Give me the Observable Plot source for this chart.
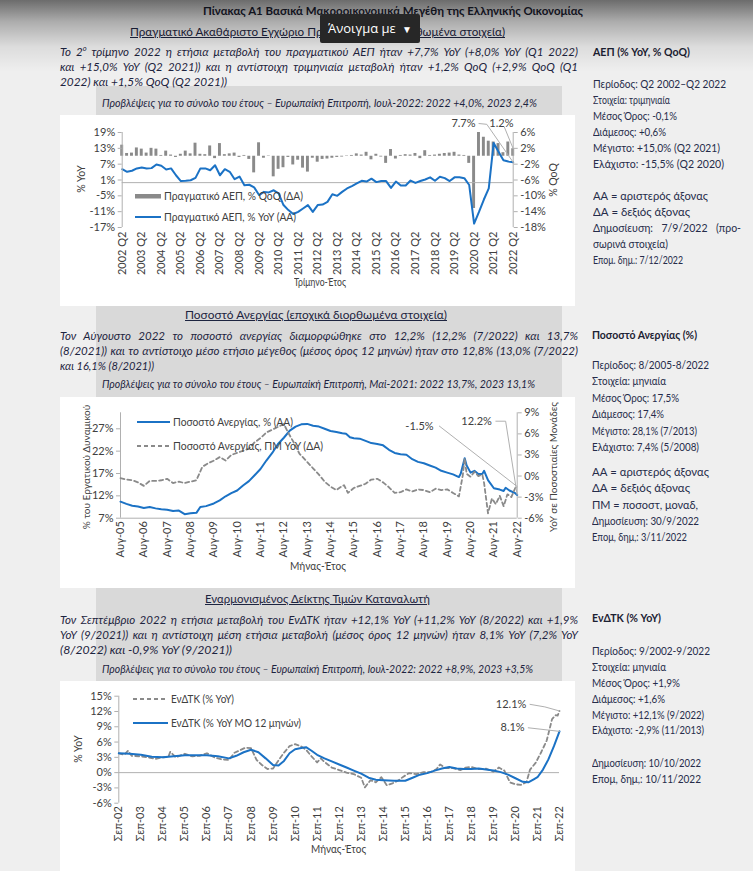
<!DOCTYPE html>
<html lang="el">
<head>
<meta charset="utf-8">
<title>Πίνακας Α1</title>
<script src="https://cdn.jsdelivr.net/npm/d3@7"></script>
<script src="https://cdn.jsdelivr.net/npm/@observablehq/plot@0.6"></script>
<style>
  html, body { margin:0; padding:0; }
  body { width:753px; height:871px; position:relative; overflow:hidden; background:#efefef;
         font-family: Lato, "Noto Sans", sans-serif; color:#1d2440; }
  .a { position:absolute; white-space:nowrap; line-height:1; }
  .band { position:absolute; background:#d9d9d9; }
  .box { position:absolute; background:#fff; }
  .chart { position:absolute; }
  sup { font-size:0.65em; line-height:0; }
</style>
</head>
<body>
<div class="band" style="left:96px;top:86px;width:466px;height:29px"></div>
<div class="box" style="left:60px;top:115px;width:515px;height:191px"></div>
<div class="band" style="left:96px;top:306px;width:466px;height:91px"></div>
<div class="box" style="left:60px;top:397px;width:515px;height:191px"></div>
<div class="band" style="left:96px;top:588px;width:466px;height:93px"></div>
<div class="box" style="left:60px;top:681px;width:515px;height:190px"></div>
<script>
// ---------------- DATA ----------------
// Chart 1: real GDP, quarterly 2002 Q2 – 2022 Q2
const gdpTickLabels = ["2002 Q2","2003 Q2","2004 Q2","2005 Q2","2006 Q2","2007 Q2","2008 Q2","2009 Q2","2010 Q2","2011 Q2","2012 Q2","2013 Q2","2014 Q2","2015 Q2","2016 Q2","2017 Q2","2018 Q2","2019 Q2","2020 Q2","2021 Q2","2022 Q2"];
const gdpYoY = [5.1,4.1,4.5,
  5.4,5.7,5.4,5.5,
  6.9,6.4,5.0,5.4,
  2.8,0.6,0.7,0.9,
  1.8,5.4,5.4,4.7,
  6.6,2.8,5.1,4.1,
  1.3,2.3,-1.0,-0.8,
  -1.8,-4.7,-3.5,-3.7,
  -2.9,-4.1,-8.5,-10.4,
  -11.9,-11.1,-9.8,-8.5,
  -11.1,-8.5,-8.3,-7.3,
  -4.4,-5.0,-3.5,-2.2,
  -1.3,-0.3,0.7,0.4,
  1.5,0.2,0.6,0.6,
  -2.0,0.4,-1.1,-1.1,
  0.8,-0.1,0.6,1.2,
  2.0,0.7,2.2,1.7,
  0.6,2.0,2.0,1.7,
  -0.9,-15.5,-11.1,-6.4,
  -2.2,15.0,11.7,8.5,
  8.0,7.7];
const gdpQoQ = [2.8,0.7,0.8,
  2.1,1.8,0.8,2.0,
  1.8,0.2,1.3,0.3,
  -0.3,0.5,1.3,0.6,
  3.3,0.5,0.4,2.6,
  -0.6,3.2,0.4,0.6,
  0.8,-0.3,0.2,-0.8,
  -4.2,3.4,-0.5,0.1,
  -5.2,-3.3,-2.9,-0.3,
  -2.2,-1.0,-3.0,-4.0,
  -0.5,-1.5,-0.8,-0.7,
  -0.5,-0.3,-0.2,0.1,
  0.2,0.6,0.3,1.0,
  -0.9,0.5,-0.2,-1.8,
  1.7,-0.7,0.2,0.4,
  0.3,0.7,-0.6,1.4,
  0.2,0.3,0.5,0.7,
  0.8,1.0,0.3,0.2,
  -1.8,-13.2,6.0,4.8,
  3.8,3.6,3.2,0.9,
  3.6,1.9];
const gdpLeftTicks = [-17,-11,-5,1,7,13,19];
const gdpRightTicks = [-18,-14,-10,-6,-2,2,6];

// Chart 2: unemployment rate, monthly 8/2005 – 8/2022
const unempTickLabels = ["Αυγ-05","Αυγ-06","Αυγ-07","Αυγ-08","Αυγ-09","Αυγ-10","Αυγ-11","Αυγ-12","Αυγ-13","Αυγ-14","Αυγ-15","Αυγ-16","Αυγ-17","Αυγ-18","Αυγ-19","Αυγ-20","Αυγ-21","Αυγ-22"];
const unempDates = ["2005-08","2005-11","2006-02","2006-05","2006-08","2006-11","2007-02","2007-05","2007-08","2007-11","2008-02","2008-05","2008-08","2008-11","2009-01","2009-04","2009-08","2009-11","2010-02","2010-05","2010-08","2010-11","2011-02","2011-05","2011-08","2011-11","2012-02","2012-05","2012-08","2012-11","2013-02","2013-05","2013-08","2013-11","2014-02","2014-05","2014-08","2014-11","2015-02","2015-04","2015-06","2015-08","2015-11","2016-02","2016-05","2016-08","2016-11","2017-02","2017-05","2017-08","2017-11","2018-02","2018-05","2018-08","2018-11","2019-02","2019-05","2019-08","2019-11","2020-02","2020-03","2020-05","2020-06","2020-08","2020-10","2020-12","2021-02","2021-03","2021-05","2021-08","2021-11","2022-01","2022-02","2022-04","2022-07","2022-08"];
const unempRate = [10.7,10.2,9.8,9.6,9.3,9.5,9.2,9.0,8.9,8.6,8.7,7.9,8.1,8.2,9.5,9.7,10.3,11.0,11.9,12.6,13.2,14.3,15.3,16.6,18.0,19.9,21.6,23.6,25.0,26.6,27.5,28.0,28.1,27.7,27.5,27.0,26.5,26.3,26.0,25.9,25.1,24.9,24.8,24.3,23.8,23.6,23.3,22.3,21.6,21.3,21.2,20.2,19.6,19.3,18.8,18.3,17.6,17.2,16.8,16.2,17.0,20.4,18.8,17.2,17.6,16.9,16.9,17.6,15.5,13.7,13.4,13.1,13.8,13.2,12.6,12.2];
const unempChgDates = ["2005-08","2005-11","2006-02","2006-05","2006-08","2006-11","2007-02","2007-05","2007-08","2007-11","2008-02","2008-05","2008-08","2008-11","2009-02","2009-05","2009-08","2009-11","2010-02","2010-05","2010-08","2010-11","2011-02","2011-05","2011-08","2011-11","2012-02","2012-05","2012-08","2012-10","2013-01","2013-04","2013-08","2013-11","2014-02","2014-05","2014-08","2014-11","2015-01","2015-03","2015-05","2015-08","2015-11","2016-02","2016-05","2016-08","2016-11","2017-02","2017-05","2017-08","2017-11","2018-02","2018-05","2018-08","2018-11","2019-02","2019-05","2019-08","2019-11","2020-02","2020-04","2020-05","2020-06","2020-08","2020-10","2020-12","2021-02","2021-03","2021-05","2021-07","2021-09","2021-11","2022-01","2022-03","2022-05","2022-07","2022-08"];
const unempChg = [-0.3,-0.5,-0.6,-0.9,-1.4,-0.7,-0.7,-0.6,-0.4,-1.0,-0.8,-1.0,-0.8,-0.6,1.3,1.8,2.2,2.7,2.2,3.0,3.3,3.6,3.9,4.8,5.4,6.2,6.6,7.0,7.4,6.3,4.8,3.2,2.0,1.1,0.2,-0.8,-1.5,-2.0,-1.6,-1.3,-2.4,-1.7,-1.4,-1.1,-0.5,-0.4,-0.9,-1.6,-2.4,-2.3,-1.9,-2.2,-1.9,-2.0,-2.3,-1.8,-2.0,-1.9,-2.4,-2.9,0.1,2.5,0.3,-0.1,0.6,0.0,0.2,-1.0,-5.3,-3.2,-4.0,-2.8,-4.3,-2.6,-3.0,-1.7,-1.5];
const unempLeftTicks = [7,12,17,22,27];
const unempRightTicks = [-6,-3,0,3,6,9];

// Chart 3: HICP, monthly 9/2002 – 9/2022
const hicpTickLabels = ["Σεπ-02","Σεπ-03","Σεπ-04","Σεπ-05","Σεπ-06","Σεπ-07","Σεπ-08","Σεπ-09","Σεπ-10","Σεπ-11","Σεπ-12","Σεπ-13","Σεπ-14","Σεπ-15","Σεπ-16","Σεπ-17","Σεπ-18","Σεπ-19","Σεπ-20","Σεπ-21","Σεπ-22"];
const hicpDates = ["2002-09","2002-12","2003-02","2003-04","2003-09","2004-01","2004-05","2004-09","2004-12","2005-01","2005-04","2005-09","2006-01","2006-05","2006-09","2007-01","2007-05","2007-09","2007-12","2008-03","2008-06","2008-09","2008-12","2009-03","2009-06","2009-09","2009-12","2010-03","2010-06","2010-09","2010-12","2011-03","2011-06","2011-09","2011-11","2012-01","2012-05","2012-09","2013-01","2013-05","2013-09","2013-11","2014-02","2014-05","2014-08","2014-11","2015-02","2015-05","2015-08","2015-11","2016-03","2016-07","2016-11","2017-02","2017-04","2017-07","2017-11","2018-03","2018-06","2018-09","2019-01","2019-05","2019-09","2019-12","2020-03","2020-06","2020-09","2020-12","2021-03","2021-05","2021-08","2021-11","2022-02","2022-05","2022-07","2022-08","2022-09"];
const hicpYoY = [3.8,3.5,4.3,3.3,3.2,3.0,2.7,3.0,3.1,4.1,3.0,3.7,3.2,3.3,3.8,3.0,2.6,2.5,3.9,4.4,4.9,4.8,2.5,1.5,0.7,0.8,2.4,3.9,5.2,5.6,5.2,4.5,3.2,2.0,2.8,2.1,1.0,0.5,0.0,-0.3,-1.0,-2.9,-1.5,-1.9,-0.9,-2.5,-2.1,-1.6,-0.8,-0.1,-0.3,0.1,0.1,0.7,1.6,0.9,0.9,0.5,1.0,1.1,0.7,0.8,0.2,1.0,0.4,-1.9,-2.3,-2.4,-1.9,0.6,1.9,4.0,6.3,10.5,11.3,11.2,12.1];
const hicpAvgDates = ["2002-09","2003-03","2003-09","2004-03","2004-09","2005-03","2005-09","2006-03","2006-09","2007-03","2007-09","2008-01","2008-05","2008-09","2009-01","2009-05","2009-09","2009-12","2010-03","2010-06","2010-09","2011-01","2011-03","2011-06","2011-09","2012-01","2012-05","2012-09","2013-01","2013-05","2013-09","2014-01","2014-05","2014-09","2015-03","2015-09","2016-01","2016-05","2016-09","2017-01","2017-05","2017-09","2018-01","2018-05","2018-09","2019-01","2019-05","2019-09","2020-01","2020-05","2020-09","2021-01","2021-04","2021-07","2021-09","2021-12","2022-03","2022-06","2022-09"];
const hicpAvg = [3.8,3.7,3.5,3.1,3.0,3.2,3.4,3.4,3.4,3.2,2.8,3.3,4.0,4.5,4.0,2.8,1.5,1.4,2.3,3.8,4.6,4.9,5.0,4.3,3.5,2.8,2.2,1.6,1.0,0.4,-0.2,-1.0,-1.4,-1.5,-1.6,-1.6,-1.0,-0.4,-0.1,0.4,0.8,1.1,0.8,0.7,0.7,0.8,0.6,0.4,0.1,-0.4,-1.1,-1.8,-1.9,-1.3,-0.9,0.6,2.6,5.2,8.1];
const hicpTicks = [-6,-3,0,3,6,9,12,15];

// ---------------- HELPERS ----------------
const FONT = 'Lato, "Noto Sans", sans-serif';
const BLUE = "#1b72c5", GREY = "#8a8a8a", AXC = "#b0b0b0", TXT = "#404040";
const parse = d3.utcParse("%Y-%m");

function T(txt, x, yc, size, o = {}) {
  const el = document.createElement("div");
  el.className = "a";
  el.innerHTML = txt;
  el.style.left = x + "px";
  el.style.top = (yc - size * 0.55) + "px";
  el.style.fontSize = size + "px";
  if (o.b) el.style.fontWeight = "700";
  if (o.i) el.style.fontStyle = "italic";
  if (o.u) el.style.textDecoration = "underline";
  el.style.color = o.c || "#1d2440";
  document.body.appendChild(el);
  if (o.w) {
    const w0 = el.getBoundingClientRect().width;
    if (o.j && w0 < o.w) {
      const n = (el.textContent.match(/ /g) || []).length;
      if (n) el.style.wordSpacing = ((o.w - w0) / n) + "px";
    } else if (w0 > 0) {
      el.style.transformOrigin = "0 50%";
      el.style.transform = `scaleX(${o.w / w0})`;
    }
  }
  return el;
}
function R(txt, cx, cy, size) {
  const el = document.createElement("div");
  el.className = "a";
  el.textContent = txt;
  el.style.fontSize = size + "px";
  el.style.color = TXT;
  el.style.left = cx + "px";
  el.style.top = cy + "px";
  el.style.transform = "translate(-50%,-50%) rotate(-90deg)";
  document.body.appendChild(el);
}
function legend(kind, x1, x2, y, text, w) {
  const s = document.createElementNS("http://www.w3.org/2000/svg", "svg");
  s.setAttribute("width", x2 - x1); s.setAttribute("height", 8);
  s.style.position = "absolute"; s.style.left = x1 + "px"; s.style.top = (y - 4) + "px";
  if (kind === "bar") {
    s.innerHTML = `<rect x="0" y="2" width="${x2 - x1}" height="4.5" fill="${GREY}"/>`;
  } else if (kind === "line") {
    s.innerHTML = `<line x1="0" x2="${x2 - x1}" y1="4" y2="4" stroke="${BLUE}" stroke-width="2"/>`;
  } else {
    s.innerHTML = `<line x1="0" x2="${x2 - x1}" y1="4" y2="4" stroke="${GREY}" stroke-width="1.8" stroke-dasharray="4,3"/>`;
  }
  document.body.appendChild(s);
  T(text, x2 + 2.5, y, 11, {c: TXT, w});
}
function place(node, left, top) {
  const d = document.createElement("div");
  d.className = "chart"; d.style.left = left + "px"; d.style.top = top + "px";
  d.appendChild(node); document.body.appendChild(d);
}
const plotStyle = {fontFamily: FONT, fontSize: "11px", color: TXT, background: "transparent", overflow: "visible"};

// ---------------- CHART 1 ----------------
const gdpRows = gdpYoY.map((v, i) => ({i, yoy: v, qoq: gdpQoQ[i]}));
const gdpR = d3.scaleLinear([-18, 6], [-17, 19]);   // right axis (QoQ) onto left axis (YoY)
const n1 = gdpRows.length - 1;
const c1 = Plot.plot({
  width: 515, height: 191, marginLeft: 61.7, marginRight: 62.3, marginTop: 17, marginBottom: 79,
  style: plotStyle,
  x: {domain: [0, n1]},
  y: {domain: [-17, 19]},
  marks: [
    Plot.rect(gdpRows, {x1: d => d.i - 0.3, x2: d => d.i + 0.3, y1: gdpR(0), y2: d => gdpR(d.qoq), fill: GREY}),
    Plot.ruleY([0], {stroke: AXC}),
    Plot.lineY(gdpRows, {x: "i", y: "yoy", stroke: BLUE, strokeWidth: 2}),
    Plot.ruleX([0, n1], {y1: -17, y2: 19, stroke: AXC}),
    Plot.axisY(gdpLeftTicks, {anchor: "left", tickSize: 4, tickPadding: 3, stroke: AXC, fill: TXT, tickFormat: d => d + "%", label: null}),
    Plot.axisY(gdpRightTicks.map(gdpR), {anchor: "right", tickSize: 4, tickPadding: 3, stroke: AXC, fill: TXT, tickFormat: d => Math.round(gdpR.invert(d)) + "%", label: null}),
    Plot.axisX(gdpTickLabels.map((_, k) => k * 4), {anchor: "bottom", tickSize: 0, tickPadding: 4, tickRotate: -90, fill: TXT, tickFormat: d => gdpTickLabels[d / 4], label: null}),
    Plot.line([[n1 - 7.0, 22.4], [n1 - 5.4, 22.1], [n1, gdpYoY[n1]]], {stroke: AXC, strokeWidth: 1}),
    Plot.line([[n1 - 1.8, 21.0], [n1, gdpR(gdpQoQ[n1])]], {stroke: AXC, strokeWidth: 1}),
    Plot.text([[n1 - 7.7, 22.4, gdpYoY[n1].toFixed(1) + "%"], [n1 + 0.06, 22.4, "1.2%"]], {x: d => d[0], y: d => d[1], text: d => d[2], textAnchor: "end", fill: TXT, fontSize: 11})
  ]
});
place(c1, 60, 115);

// ---------------- CHART 2 ----------------
const u1 = unempDates.map((d, i) => ({date: parse(d), v: unempRate[i]}));
const u2 = unempChgDates.map((d, i) => ({date: parse(d), v: unempChg[i]}));
const unR = d3.scaleLinear([-6, 9], [7, 30.58]);   // right axis (pp) onto left axis (%)
const uEnd = parse(unempDates[unempDates.length - 1]);
const c2 = Plot.plot({
  width: 515, height: 191, marginLeft: 60, marginRight: 58.3, marginTop: 15.3, marginBottom: 70.3,
  style: plotStyle,
  x: {type: "utc", domain: [parse(unempDates[0]), uEnd]},
  y: {domain: [7, 30.58]},
  marks: [
    Plot.ruleY([7], {stroke: AXC}),
    Plot.ruleX([parse(unempDates[0]), uEnd], {y1: 7, y2: 30.58, stroke: AXC}),
    Plot.lineY(u1, {x: "date", y: "v", stroke: BLUE, strokeWidth: 2}),
    Plot.lineY(u2, {x: "date", y: d => unR(d.v), stroke: GREY, strokeWidth: 1.8, strokeDasharray: "4,3"}),
    Plot.axisY(unempLeftTicks, {anchor: "left", tickSize: 4, tickPadding: 3, stroke: AXC, fill: TXT, tickFormat: d => d + "%", label: null}),
    Plot.axisY(unempRightTicks.map(unR), {anchor: "right", tickSize: 4, tickPadding: 3, stroke: AXC, fill: TXT, tickFormat: d => Math.round(unR.invert(d)) + "%", label: null}),
    Plot.axisX(unempTickLabels.map((_, k) => new Date(Date.UTC(2005 + k, 7, 1))), {anchor: "bottom", tickSize: 0, tickPadding: 3, tickRotate: -90, fill: TXT, tickFormat: d => unempTickLabels[d.getUTCFullYear() - 2005], label: null}),
    Plot.line([[parse("2019-04"), 27.6], [uEnd, unR(unempChg[unempChg.length - 1])]], {stroke: AXC, strokeWidth: 1}),
    Plot.line([[parse("2021-09"), 28.7], [parse("2022-02"), 28.7], [uEnd, unempRate[unempRate.length - 1]]], {stroke: AXC, strokeWidth: 1}),
    Plot.text([[parse("2019-01"), 27.6, "-1.5%"], [parse("2021-07"), 28.7, "12.2%"]], {x: d => d[0], y: d => d[1], text: d => d[2], textAnchor: "end", fill: TXT, fontSize: 11})
  ]
});
place(c2, 60, 397);

// ---------------- CHART 3 ----------------
const h1 = hicpDates.map((d, i) => ({date: parse(d), v: hicpYoY[i]}));
const h2 = hicpAvgDates.map((d, i) => ({date: parse(d), v: hicpAvg[i]}));
const hEnd = parse(hicpDates[hicpDates.length - 1]);
const c3 = Plot.plot({
  width: 515, height: 190, marginLeft: 58.3, marginRight: 16, marginTop: 14.7, marginBottom: 68.3,
  style: plotStyle,
  x: {type: "utc", domain: [parse(hicpDates[0]), hEnd]},
  y: {domain: [-6, 15]},
  marks: [
    Plot.ruleY([0], {stroke: AXC}),
    Plot.ruleX([parse(hicpDates[0])], {y1: -6, y2: 15, stroke: AXC}),
    Plot.lineY(h1, {x: "date", y: "v", stroke: GREY, strokeWidth: 1.8, strokeDasharray: "4,3"}),
    Plot.lineY(h2, {x: "date", y: "v", stroke: BLUE, strokeWidth: 2}),
    Plot.axisY(hicpTicks, {anchor: "left", tickSize: 4, tickPadding: 3, stroke: AXC, fill: TXT, tickFormat: d => d + "%", label: null}),
    Plot.axisX(hicpTickLabels.map((_, k) => new Date(Date.UTC(2002 + k, 8, 1))), {anchor: "bottom", tickSize: 0, tickPadding: 3, tickRotate: -90, fill: TXT, tickFormat: d => hicpTickLabels[d.getUTCFullYear() - 2002], label: null}),
    Plot.line([[parse("2021-05"), 13.4], [parse("2022-01"), 12.9], [hEnd, hicpYoY[hicpYoY.length - 1]]], {stroke: AXC, strokeWidth: 1}),
    Plot.line([[parse("2021-04"), 8.8], [hEnd, hicpAvg[hicpAvg.length - 1]]], {stroke: AXC, strokeWidth: 1}),
    Plot.text([[parse("2021-03"), 13.4, "12.1%"], [parse("2021-02"), 8.8, "8.1%"]], {x: d => d[0], y: d => d[1], text: d => d[2], textAnchor: "end", fill: TXT, fontSize: 11})
  ]
});
place(c3, 60, 681);

// ---------------- TEXT ----------------
T("Πίνακας Α1 Βασικά Μακροοικονομικά Μεγέθη της Ελληνικής Οικονομίας", 203, 12, 12, {b: 1, w: 380, c: "#1c2233"});
T("Πραγματικό Ακαθάριστο Εγχώριο Προϊόν (εποχικά διορθωμένα στοιχεία)", 130, 33, 12, {u: 1, w: 375});
T("Το 2<sup>ο</sup> τρίμηνο 2022 η ετήσια μεταβολή του πραγματικού ΑΕΠ ήταν +7,7% YoY (+8,0% YoY (Q1 2022)", 60, 52, 11.5, {i: 1, w: 518, j: 1});
T("και +15,0% YoY (Q2 2021)) και η αντίστοιχη τριμηνιαία μεταβολή ήταν +1,2% QoQ (+2,9% QoQ (Q1", 60, 67, 11.5, {i: 1, w: 518, j: 1});
T("2022) και +1,5% QoQ (Q2 2021))", 60, 82, 11.5, {i: 1, w: 167});
T("Προβλέψεις για το σύνολο του έτους – Ευρωπαϊκή Επιτροπή, Ιουλ-2022: 2022 +4,0%, 2023 2,4%", 101.7, 104, 10.5, {i: 1, w: 435});

T("Ποσοστό Ανεργίας (εποχικά διορθωμένα στοιχεία)", 185, 316, 12, {u: 1, w: 262});
T("Τον Αύγουστο 2022 το ποσοστό ανεργίας διαμορφώθηκε στο 12,2% (12,2% (7/2022) και 13,7%", 60, 336, 11.5, {i: 1, w: 518, j: 1});
T("(8/2021)) και το αντίστοιχο μέσο ετήσιο μέγεθος (μέσος όρος 12 μηνών) ήταν στο 12,8% (13,0% (7/2022)", 60, 351, 11.5, {i: 1, w: 518, j: 1});
T("και 16,1% (8/2021))", 60, 366, 11.5, {i: 1, w: 94});
T("Προβλέψεις για το σύνολο του έτους – Ευρωπαϊκή Επιτροπή, Μαϊ-2021: 2022 13,7%, 2023 13,1%", 101.7, 385, 10.5, {i: 1, w: 433});

T("Εναρμονισμένος Δείκτης Τιμών Καταναλωτή", 205, 600, 12, {u: 1, w: 225});
T("Τον Σεπτέμβριο 2022 η ετήσια μεταβολή του ΕνΔΤΚ ήταν +12,1% YoY (+11,2% YoY (8/2022) και +1,9%", 60, 620, 11.5, {i: 1, w: 518, j: 1});
T("YoY (9/2021)) και η αντίστοιχη μέση ετήσια μεταβολή (μέσος όρος 12 μηνών) ήταν 8,1% YoY (7,2% YoY", 60, 635, 11.5, {i: 1, w: 518, j: 1});
T("(8/2022) και -0,9% YoY (9/2021))", 60, 650, 11.5, {i: 1, w: 172});
T("Προβλέψεις για το σύνολο του έτους – Ευρωπαϊκή Επιτροπή, Ιουλ-2022: 2022 +8,9%, 2023 +3,5%", 101.7, 670, 10.5, {i: 1, w: 431});

// right column
const RC = "#262c4a";
function col(x, header, hy, hw, rows) {
  T(header, x, hy, 10.5, {b: 1, w: hw, c: "#1c2233"});
  rows.forEach(([t, y, w, j]) => T(t, x, y, 10.5, {w, j, c: RC}));
}
col(593, "ΑΕΠ (% YoY, % QoQ)", 53, 97, [
  ["Περίοδος: Q2 2002–Q2 2022", 85, 133], ["Στοιχεία: τριμηνιαία", 101, 77], ["Μέσος Όρος: -0,1%", 117, 84],
  ["Διάμεσος: +0,6%", 133, 73], ["Μέγιστο: +15,0% (Q2 2021)", 149, 127], ["Ελάχιστο: -15,5% (Q2 2020)", 165, 131],
  ["ΑΑ = αριστερός άξονας", 197, 115], ["ΔΑ = δεξιός άξονας", 213, 97], ["Δημοσίευση: 7/9/2022 (προ-", 229, 148, 1],
  ["σωρινά στοιχεία)", 245, 75], ["Επομ. δημ.: 7/12/2022", 261, 90]
]);
col(591.7, "Ποσοστό Ανεργίας (%)", 336, 105, [
  ["Περίοδος: 8/2005-8/2022", 366, 117], ["Στοιχεία: μηνιαία", 382, 74], ["Μέσος Όρος: 17,5%", 399, 87],
  ["Διάμεσος: 17,4%", 415, 72], ["Μέγιστο: 28,1% (7/2013)", 432, 105], ["Ελάχιστο: 7,4% (5/2008)", 448, 107],
  ["ΑΑ = αριστερός άξονας", 473, 117], ["ΔΑ = δεξιός άξονας", 489, 98], ["ΠΜ = ποσοστ, μοναδ,", 506, 106],
  ["Δημοσίευση: 30/9/2022", 522, 107], ["Επομ, δημ,: 3/11/2022", 538, 95]
]);
col(591.7, "ΕνΔΤΚ (% YoY)", 619, 69, [
  ["Περίοδος: 9/2002-9/2022", 652, 118], ["Στοιχεία: μηνιαία", 668, 74], ["Μέσος Όρος: +1,9%", 684, 88],
  ["Διάμεσος: +1,6%", 700, 73], ["Μέγιστο: +12,1% (9/2022)", 716, 112], ["Ελάχιστο: -2,9% (11/2013)", 731, 112],
  ["Δημοσίευση: 10/10/2022", 764, 109], ["Επομ, δημ,: 10/11/2022", 780, 109]
]);

// axis titles
R("% YoY", 81, 179, 10.5);
R("% QoQ", 553, 180, 10.5);
T("Τρίμηνο-Έτος", 294, 283, 10.5, {c: TXT, w: 52});
R("% του Εργατικού Δυναμικού", 86, 467, 10);
R("YoY σε Ποσοστιαίες Μονάδες", 553, 467, 10);
T("Μήνας-Έτος", 290, 567, 10.5, {c: TXT, w: 56});
R("% YoY", 78, 749, 10.5);
T("Μήνας-Έτος", 311, 850, 10.5, {c: TXT, w: 55});

// legends
legend("bar", 135, 161, 196, "Πραγματικό ΑΕΠ, % QoQ (ΔΑ)", 139);
legend("line", 135, 161, 217, "Πραγματικό ΑΕΠ, % YoY (ΑΑ)", 132);
legend("line", 137, 170, 422, "Ποσοστό Ανεργίας, % (ΑΑ)", 120);
legend("dash", 137, 170, 446, "Ποσοστό Ανεργίας, ΠΜ YoY (ΔΑ)", 150);
legend("dash", 133, 168, 699, "ΕνΔΤΚ (% YoY)", 63);
legend("line", 133, 168, 723, "ΕνΔΤΚ (% YoY ΜΟ 12 μηνών)", 130);

// viewer overlay (top shadow + "open with" button)
const g = document.createElement("div");
g.style.cssText = "position:absolute;left:0;top:0;width:753px;height:72px;pointer-events:none;background:linear-gradient(to bottom, rgba(0,0,0,0.55) 0%, rgba(0,0,0,0.28) 30%, rgba(0,0,0,0.08) 65%, rgba(0,0,0,0) 100%);";
document.body.appendChild(g);
const btn = document.createElement("div");
btn.style.cssText = "position:absolute;left:320px;top:14px;width:100px;height:29px;background:#272727;border-radius:2px;color:#fff;font-family:'Open Sans',sans-serif;font-size:13px;line-height:29px;box-sizing:border-box;padding-left:8px;white-space:nowrap;";
btn.innerHTML = 'Άνοιγμα με <span style="font-size:10px;margin-left:3px">▼</span>';
document.body.appendChild(btn);
</script>
</body>
</html>
